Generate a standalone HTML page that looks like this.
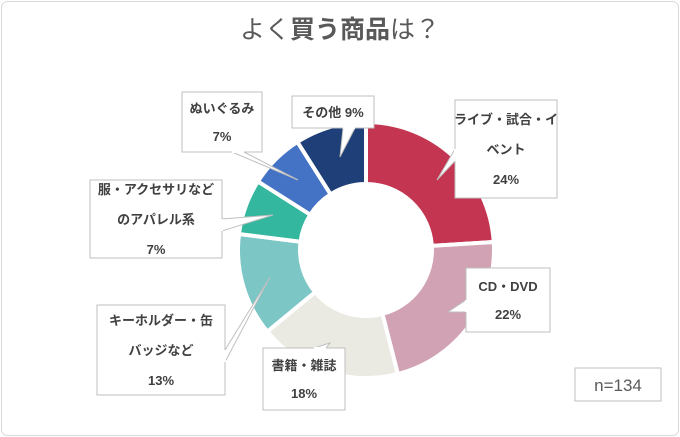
<!DOCTYPE html>
<html><head><meta charset="utf-8"><style>
body{margin:0;background:#fff;}
svg{display:block;font-family:"Liberation Sans","Noto Sans CJK JP",sans-serif;}
</style></head><body>
<svg id="c" width="680" height="437" viewBox="0 0 680 437">
<rect x="1.5" y="1.5" width="677" height="434" rx="6" fill="#fff" stroke="#d9d9d9"/>
<text x="340" y="38" text-anchor="middle" font-size="25" fill="#595959">よく<tspan font-weight="bold">買う</tspan><tspan font-weight="bold">商品</tspan>は？</text>
<g id="slices"></g>
<g id="labels"></g>
<rect x="575" y="368" width="86" height="33" fill="#fff" stroke="#bfbfbf"/>
<text x="618" y="391" text-anchor="middle" font-size="17" fill="#595959">n=134</text>
</svg>
<script>
const categories = ["ライブ・試合・イベント","CD・DVD","書籍・雑誌","キーホルダー・缶バッジなど","服・アクセサリなどのアパレル系","ぬいぐるみ","その他"];
const values = [24,22,18,13,7,7,9];
const colors = ["#c33550","#d0a2b3","#ebeae2","#7cc6c6","#33b79e","#4472c4","#1f3f78"];
const labelLines = [["ライブ・試合・イ","ベント","24%"],["CD・DVD","22%"],["書籍・雑誌","18%"],["キーホルダー・缶","バッジなど","13%"],["服・アクセサリなど","のアパレル系","7%"],["ぬいぐるみ","7%"],["その他 9%"]];
const boxes = [[455,100,102,98],[466,268,84,64],[263,348,82,62],[97,305,128,90],[90,180,132,78],[182,92,80,60],[292,96,82,32]];
const tips = [[437,180],[448,312],[330,343],[270,277],[273,215],[298,180],[340,157]];
const NS="http://www.w3.org/2000/svg";
const cx=366, cy=250, R=128, r=66;
const total=values.reduce((a,b)=>a+b,0);
const sg=document.getElementById('slices'), lg=document.getElementById('labels');
function pt(rad,a){return [cx+rad*Math.sin(a), cy-rad*Math.cos(a)];}
let a0=0;
values.forEach((v,i)=>{
  const a1=a0+v/total*2*Math.PI;
  const [x1,y1]=pt(R,a0),[x2,y2]=pt(R,a1),[x3,y3]=pt(r,a1),[x4,y4]=pt(r,a0);
  const lf=(a1-a0)>Math.PI?1:0;
  const p=document.createElementNS(NS,'path');
  p.setAttribute('d',`M${x1},${y1}A${R},${R} 0 ${lf} 1 ${x2},${y2}L${x3},${y3}A${r},${r} 0 ${lf} 0 ${x4},${y4}Z`);
  p.setAttribute('fill',colors[i]);p.setAttribute('stroke','#fff');p.setAttribute('stroke-width','4');
  
  
  sg.appendChild(p);
  a0=a1;
});
boxes.forEach((b,i)=>{
  const [x,y,w,h]=b,[tx,ty]=tips[i];
  const bx=x+w/2, by=y+h/2;
  const dx=tx-bx, dy=ty-by;
  const horiz=Math.abs(dx)/w > Math.abs(dy)/h;
  let p1,p2;
  if(horiz){const ex=dx>0?x+w:x;const my=Math.min(Math.max(by,y+8),y+h-18);p1=[ex,my];p2=[ex,my+12];}
  else{const ey=dy>0?y+h:y;const mx=Math.min(Math.max(bx+(dx>0?10:-10),x+6),x+w-18);p1=[mx,ey];p2=[mx+12,ey];}
  const tri=document.createElementNS(NS,'polygon');
  tri.setAttribute('points',`${p1} ${tx},${ty} ${p2}`);
  tri.setAttribute('fill','#fff');tri.setAttribute('stroke','#bfbfbf');
  
  
  lg.appendChild(tri);
  const rc=document.createElementNS(NS,'rect');
  rc.setAttribute('x',x);rc.setAttribute('y',y);rc.setAttribute('width',w);rc.setAttribute('height',h);
  rc.setAttribute('fill','#fff');rc.setAttribute('stroke','#bfbfbf');
  
  
  lg.appendChild(rc);
  const cov=document.createElementNS(NS,'line');
  cov.setAttribute('x1',p1[0]);cov.setAttribute('y1',p1[1]);cov.setAttribute('x2',p2[0]);cov.setAttribute('y2',p2[1]);
  cov.setAttribute('stroke','#fff');cov.setAttribute('stroke-width','2');
  
  
  lg.appendChild(cov);
  const lines=labelLines[i];
  const step=lines.length>2?30:28;
  const start=y+h/2-(lines.length-1)*step/2+5;
  lines.forEach((s,j)=>{
    const t=document.createElementNS(NS,'text');
    t.setAttribute('x',x+w/2);
    t.setAttribute('y',start+j*step);
    t.setAttribute('text-anchor','middle');
    t.setAttribute('font-size','13');t.setAttribute('font-weight','bold');t.setAttribute('fill','#404040');
    t.textContent=s;
    
    
    lg.appendChild(t);
  });
});
</script>
</body></html>
